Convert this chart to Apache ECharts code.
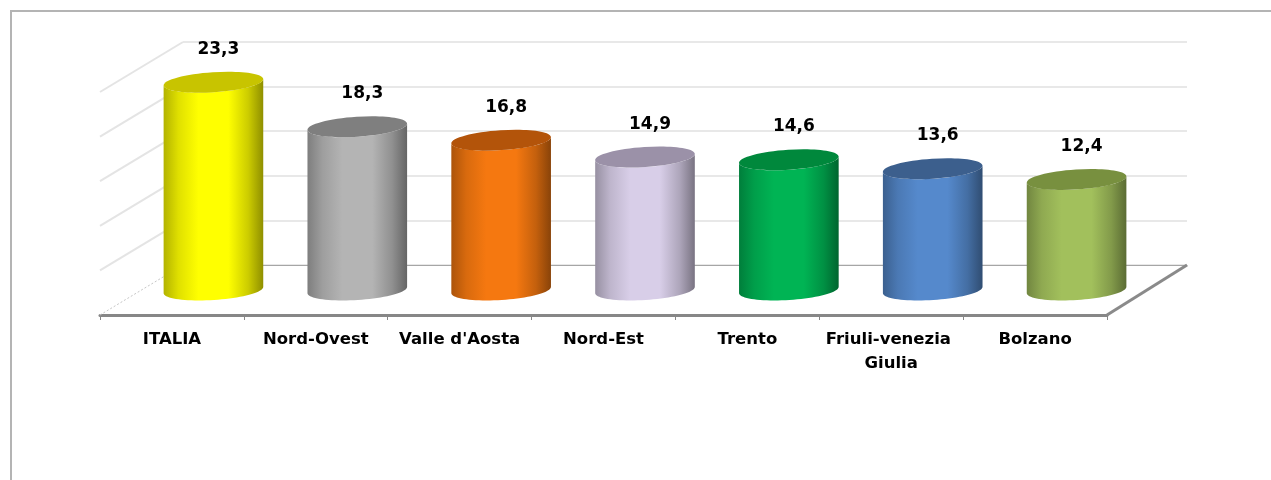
<!DOCTYPE html>
<html>
<head>
<meta charset="utf-8">
<script src="https://cdn.jsdelivr.net/npm/echarts@6/dist/echarts.min.js"></script>
<style>
  html, body { margin: 0; padding: 0; background: #ffffff; }
  #chart { width: 1271px; height: 480px; }
</style>
</head>
<body>
<div id="chart"></div>
<script>
// Regional values (percent) shown as 3D cylinders
const categories = ['ITALIA', 'Nord-Ovest', "Valle d'Aosta", 'Nord-Est', 'Trento', 'Friuli-venezia Giulia', 'Bolzano'];
const values = [23.3, 18.3, 16.8, 14.9, 14.6, 13.6, 12.4];
const wallTicks = [0, 5, 10, 15, 20, 25];

// Body / top-cap colour for each cylinder
const palette = [
  { body: '#ffff00', top: '#c8c400' },
  { body: '#b4b4b4', top: '#7f7f7f' },
  { body: '#f57810', top: '#b3540a' },
  { body: '#d8cee8', top: '#9b91a8' },
  { body: '#00b454', top: '#00883c' },
  { body: '#5589cc', top: '#3c5f8d' },
  { body: '#a2c05c', top: '#78903f' }
];

// Depth of the 3D box (floor shift from front edge to back wall)
const DX = 83, DY = -50;
const FONT = '"DejaVu Sans", Verdana, sans-serif';

function shade(hex, f) {
  const n = parseInt(hex.slice(1), 16);
  const r = Math.round(((n >> 16) & 255) * f);
  const g = Math.round(((n >> 8) & 255) * f);
  const b = Math.round((n & 255) * f);
  return 'rgb(' + r + ',' + g + ',' + b + ')';
}

function ellipsePoint(cx, cy, rx, ry, a, t) {
  return [
    cx + rx * Math.cos(t) * Math.cos(a) - ry * Math.sin(t) * Math.sin(a),
    cy + rx * Math.cos(t) * Math.sin(a) + ry * Math.sin(t) * Math.cos(a)
  ];
}

function fmt(v) { return v.toFixed(1).replace('.', ','); }

// Side wall grid lines and floor edges
function renderWall(params, api) {
  const v = api.value(1);
  const cs = params.coordSys;
  const y = api.coord([0, v])[1];
  const children = [{
    type: 'line',
    shape: { x1: cs.x, y1: y, x2: cs.x + DX, y2: y + DY },
    style: v === 0
      ? { stroke: '#c6c6c6', lineWidth: 1, lineDash: [2, 2] }
      : { stroke: '#e4e4e4', lineWidth: 2 }
  }];
  if (v === 0) {
    children.push({
      type: 'line',
      shape: { x1: cs.x + cs.width, y1: y, x2: cs.x + cs.width + DX - 3, y2: y + DY },
      style: { stroke: '#8a8a8a', lineWidth: 3 }
    });
  }
  return { type: 'group', children };
}

// One cylinder per category, placed half-way into the box depth
function renderCylinder(params, api) {
  const idx = api.value(0);
  const val = api.value(1);
  const base = api.coord([idx, 0]);
  const top = api.coord([idx, val]);
  const band = api.size([1, 0])[0];
  const rx = band * 0.347, ry = 10, a = -0.065;
  const cx = base[0] + DX / 2;
  const yb = base[1] + DY / 2;
  const yt = top[1] + DY / 2;
  const col = palette[idx % palette.length];

  const pts = [];
  const N = 40;
  for (let i = 0; i <= N; i++) {
    const t = Math.PI - Math.PI * i / N;
    pts.push(ellipsePoint(cx, yb, rx, ry, a, t));
  }
  for (let i = 0; i <= N; i++) {
    const t = Math.PI * i / N;
    pts.push(ellipsePoint(cx, yt, rx, ry, a, t));
  }

  const grad = new echarts.graphic.LinearGradient(0, 0, 1, 0, [
    { offset: 0, color: shade(col.body, 0.7) },
    { offset: 0.15, color: shade(col.body, 0.88) },
    { offset: 0.35, color: col.body },
    { offset: 0.65, color: col.body },
    { offset: 0.85, color: shade(col.body, 0.8) },
    { offset: 1, color: shade(col.body, 0.56) }
  ]);

  return {
    type: 'group',
    children: [
      { type: 'polygon', shape: { points: pts }, style: { fill: grad } },
      {
        type: 'ellipse',
        shape: { cx: 0, cy: 0, rx: rx, ry: ry },
        x: cx, y: yt, rotation: -a,
        style: { fill: col.top }
      },
      {
        type: 'text',
        x: cx + 5, y: yt - 33,
        style: {
          text: fmt(val),
          font: 'bold 17px ' + FONT,
          fill: '#000000',
          align: 'center',
          verticalAlign: 'middle'
        }
      }
    ]
  };
}

const chart = echarts.init(document.getElementById('chart'), null, { renderer: 'canvas' });

chart.setOption({
  backgroundColor: '#ffffff',
  animation: false,
  graphic: [{
    type: 'rect',
    shape: { x: 11, y: 11, width: 1300, height: 500 },
    style: { fill: 'none', stroke: '#b4b4b4', lineWidth: 2 },
    silent: true
  }],
  grid: [
    // back wall
    { left: 100 + DX, top: 92 + DY, width: 1004, height: 223 },
    // front plane
    { left: 100, top: 92, width: 1007, height: 223 }
  ],
  xAxis: [
    {
      gridIndex: 0, type: 'category', data: categories,
      axisLine: { show: true, lineStyle: { color: '#a6a6a6', width: 1 } },
      axisTick: { show: false }, axisLabel: { show: false }, splitLine: { show: false }
    },
    {
      gridIndex: 1, type: 'category', data: categories,
      axisLine: { show: true, lineStyle: { color: '#878787', width: 3 } },
      axisTick: { show: true, length: 5, lineStyle: { color: '#878787', width: 1 } },
      axisLabel: {
        margin: 13,
        color: '#000000',
        fontFamily: FONT,
        fontWeight: 'bold',
        fontSize: 16.5,
        lineHeight: 24,
        width: 138,
        overflow: 'break',
        interval: 0
      },
      splitLine: { show: false }
    }
  ],
  yAxis: [
    {
      gridIndex: 0, type: 'value', min: 0, max: 25, interval: 5,
      axisLine: { show: false }, axisTick: { show: false }, axisLabel: { show: false },
      splitLine: { show: true, lineStyle: { color: '#e8e8e8', width: 2 } }
    },
    {
      gridIndex: 1, type: 'value', min: 0, max: 25, interval: 5,
      axisLine: { show: false }, axisTick: { show: false }, axisLabel: { show: false },
      splitLine: { show: false }
    }
  ],
  series: [
    {
      type: 'custom',
      xAxisIndex: 1, yAxisIndex: 1,
      data: wallTicks.map(v => [0, v]),
      encode: { x: 0, y: 1 },
      renderItem: renderWall,
      silent: true,
      z: 1
    },
    {
      type: 'custom',
      xAxisIndex: 1, yAxisIndex: 1,
      data: values.map((v, i) => [i, v]),
      encode: { x: 0, y: 1 },
      renderItem: renderCylinder,
      z: 5
    }
  ]
});
</script>
</body>
</html>
